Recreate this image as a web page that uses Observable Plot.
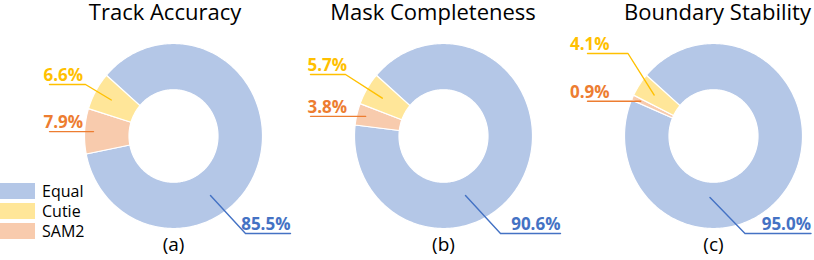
<!DOCTYPE html>
<html><head><meta charset="utf-8">
<script src="https://cdn.jsdelivr.net/npm/d3@7"></script>
<script src="https://cdn.jsdelivr.net/npm/@observablehq/plot@0.6"></script>
<style>
html,body{margin:0;padding:0;background:#fff;}
#chart{position:relative;width:814px;height:260px;overflow:hidden;font-family:"Open Sans",sans-serif;}
#legend{position:absolute;left:0;top:181px;}
#legend .lg-swatches{font-family:"Open Sans",sans-serif !important;font-size:16px !important;margin:0 !important;color:#000;}
#legend .lg-swatch{padding-bottom:0 !important;line-height:20px !important;height:20px;}
#legend .lg-swatch > svg{margin-right:7px !important;}
</style></head><body>
<div id="chart"><div id="legend"></div></div>
<script>
// ---- data ----
const metrics = ["Track Accuracy", "Mask Completeness", "Boundary Stability"];
const panelTags = ["(a)", "(b)", "(c)"];
const seriesNames = ["Equal", "Cutie", "SAM2"];
const equalValues = [85.5, 90.6, 95.0];
const cutieValues = [6.6, 5.7, 4.1];
const sam2Values = [7.9, 3.8, 0.9];

// ---- style / layout ----
const fillColors = ["#B4C7E7", "#FFE699", "#F8CBAD"];
const labelColors = {Equal: "#4472C4", Cutie: "#FFC000", SAM2: "#ED7D31"};
const START = 311;            // degrees clockwise from 12 o'clock where the Equal slice begins
const sliceOrder = ["Equal", "SAM2", "Cutie"]; // clockwise
const R_OUT = 1, R_IN = 0.5;
const PX = 89, PY = 92.5;     // pixels per data unit (x, y)
const layout = [
  {textLeft: -130, lineLeft: -124, cutieElbow: [-88, -51.5], equalAnchor: [37, 59.5], equalEnd: 117, titleDx: -8.5},
  {textLeft: -136, lineLeft: -133, cutieElbow: [-98, -61.5], equalAnchor: [22, 59.5], equalEnd: 117, titleDx: -10.5},
  {textLeft: -143.5, lineLeft: -126, cutieElbow: [-85.5, -82.5], equalAnchor: [-3.5, 61.5], equalEnd: 97.5, titleDx: 4}
];
const EQUAL_LINE_Y = 97.5;

const rad = d => d * Math.PI / 180;
const sliceRows = [], leaderRows = [], labelRows = [];
metrics.forEach((m, i) => {
  const vals = {Equal: equalValues[i], Cutie: cutieValues[i], SAM2: sam2Values[i]};
  const total = vals.Equal + vals.Cutie + vals.SAM2;
  const L = layout[i];
  let a = START;
  const mids = {};
  for (const s of sliceOrder) {
    const a0 = a, a1 = a + vals[s] / total * 360;
    a = a1;
    mids[s] = (a0 + a1) / 2;
    const n = Math.max(2, Math.ceil(a1 - a0));
    const pts = [];
    for (let k = 0; k <= n; k++) { const t = rad(a0 + (a1 - a0) * k / n); pts.push([R_OUT * Math.sin(t), R_OUT * Math.cos(t)]); }
    for (let k = n; k >= 0; k--) { const t = rad(a0 + (a1 - a0) * k / n); pts.push([R_IN * Math.sin(t), R_IN * Math.cos(t)]); }
    pts.push(pts[0]);
    pts.forEach(([x, y]) => sliceRows.push({metric: m, series: s, key: m + s, x, y}));
  }
  const fmt = v => v.toFixed(1) + "%";
  // SAM2 leader: horizontal from slice to label column
  {
    const t = rad(mids.SAM2), r = 0.9;
    const ax = r * Math.sin(t), ay = r * Math.cos(t);
    leaderRows.push({metric: m, series: "SAM2", key: m + "S", x: ax, y: ay});
    leaderRows.push({metric: m, series: "SAM2", key: m + "S", x: L.lineLeft / PX, y: ay});
    labelRows.push({metric: m, series: "SAM2", x: L.textLeft / PX, y: ay + 9 / PY, text: fmt(vals.SAM2), anchor: "start"});
  }
  // Cutie leader: slice -> elbow -> label column
  {
    const t = rad(mids.Cutie), r = 0.8;
    const ax = r * Math.sin(t), ay = r * Math.cos(t);
    const ex = L.cutieElbow[0] / PX, ey = -L.cutieElbow[1] / PY;
    leaderRows.push({metric: m, series: "Cutie", key: m + "C", x: ax, y: ay});
    leaderRows.push({metric: m, series: "Cutie", key: m + "C", x: ex, y: ey});
    leaderRows.push({metric: m, series: "Cutie", key: m + "C", x: L.lineLeft / PX, y: ey});
    labelRows.push({metric: m, series: "Cutie", x: L.textLeft / PX, y: ey + 9 / PY, text: fmt(vals.Cutie), anchor: "start"});
  }
  // Equal leader: slice -> elbow -> right
  {
    const ax = L.equalAnchor[0] / PX, ay = -L.equalAnchor[1] / PY;
    const ex = (L.equalAnchor[0] + 35) / PX, ey = -EQUAL_LINE_Y / PY;
    leaderRows.push({metric: m, series: "Equal", key: m + "E", x: ax, y: ay});
    leaderRows.push({metric: m, series: "Equal", key: m + "E", x: ex, y: ey});
    leaderRows.push({metric: m, series: "Equal", key: m + "E", x: L.equalEnd / PX, y: ey});
    labelRows.push({metric: m, series: "Equal", x: L.equalEnd / PX, y: ey + 9 / PY, text: fmt(vals.Equal), anchor: "end"});
  }
});
const titleRows = metrics.map((m, i) => ({metric: m, tag: panelTags[i], dx: layout[i].titleDx / PX}));

const marks = [
  Plot.line(sliceRows, {fx: "metric", x: "x", y: "y", z: "key", fill: "series", stroke: "white", strokeWidth: 1.2, strokeLinejoin: "round"})
];
for (const s of seriesNames) {
  marks.push(Plot.line(leaderRows.filter(d => d.series === s), {fx: "metric", x: "x", y: "y", z: "key", stroke: labelColors[s], strokeWidth: 1.4}));
  const rows = labelRows.filter(d => d.series === s);
  marks.push(Plot.text(rows, {fx: "metric", x: "x", y: "y", text: "text", textAnchor: rows[0].anchor, fill: labelColors[s], fontWeight: "bold", fontSize: 17}));
}
marks.push(Plot.text(titleRows, {fx: "metric", x: "dx", y: 1.335, text: "metric", fontSize: 22, fill: "#000"}));
marks.push(Plot.text(titleRows, {fx: "metric", x: 0, y: -1.173, text: "tag", fontSize: 19, fill: "#000"}));

const plot = Plot.plot({
  width: 814, height: 260,
  marginLeft: 83, marginRight: 11, marginTop: 43, marginBottom: 32,
  style: {fontFamily: "'Open Sans', sans-serif", background: "white", overflow: "visible"},
  fx: {domain: metrics, paddingInner: 1/3, paddingOuter: 0, axis: null},
  x: {domain: [-90 / PX, 90 / PX], axis: null},
  y: {domain: [-1, 1], axis: null},
  color: {domain: seriesNames, range: fillColors},
  marks
});
document.getElementById("chart").prepend(plot);
const lg = plot.legend("color", {swatchWidth: 35, swatchHeight: 16, columns: 1, className: "lg"});
document.getElementById("legend").appendChild(lg);
</script>
</body></html>
